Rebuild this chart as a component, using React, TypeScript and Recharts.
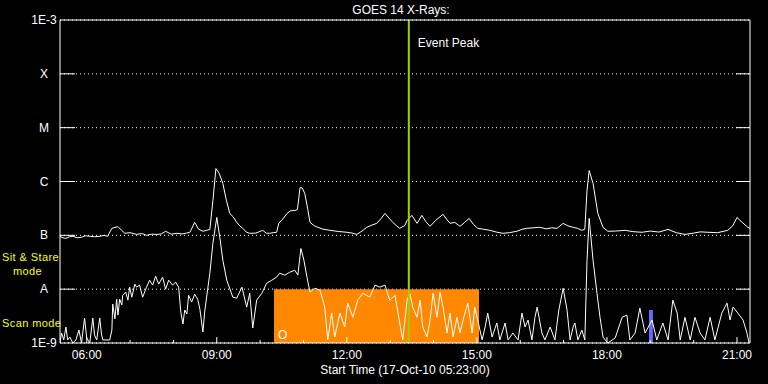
import React from "react";
import {
  LineChart,
  Line,
  XAxis,
  YAxis,
  CartesianGrid,
  ReferenceArea,
  ReferenceLine,
} from "recharts";

// time in decimal hours (UT), flux in W/m^2
const longTimes = [
  5.38, 5.45, 5.52, 5.6, 5.68, 5.78, 5.88, 5.97, 6.07, 6.18, 6.3, 6.4, 6.48, 6.58,
  6.72, 6.8, 6.88, 7.0, 7.15, 7.27, 7.38, 7.5, 7.62, 7.72, 7.82, 7.95, 8.08, 8.2,
  8.3, 8.38, 8.49, 8.58, 8.68, 8.77, 8.84, 8.91, 8.98, 9.06, 9.14, 9.22, 9.3, 9.38,
  9.46, 9.53, 9.6, 9.68, 9.76, 9.9, 10.06, 10.14, 10.22, 10.3, 10.38, 10.43, 10.52,
  10.62, 10.7, 10.8, 10.86, 10.92, 10.97, 11.03, 11.1, 11.15, 11.25, 11.33, 11.45,
  11.61, 11.8, 12.0, 12.12, 12.23, 12.35, 12.46, 12.58, 12.69, 12.8, 12.88, 12.97,
  13.06, 13.15, 13.22, 13.34, 13.39, 13.5, 13.62, 13.73, 13.82, 13.92, 14.05, 14.22,
  14.3, 14.38, 14.49, 14.61, 14.72, 14.82, 14.92, 15.02, 15.15, 15.3, 15.45, 15.6,
  15.75, 15.92, 16.05, 16.15, 16.3, 16.45, 16.6, 16.72, 16.85, 16.99, 17.1, 17.22,
  17.32, 17.42, 17.49, 17.54, 17.59, 17.68, 17.79, 17.91, 18.02, 18.2, 18.42, 18.6,
  18.81, 19.0, 19.2, 19.41, 19.6, 19.8, 20.0, 20.15, 20.33, 20.55, 20.79, 20.9, 21.0,
  21.12, 21.25, 21.3,
];
const longFlux = [
  9.6e-8, 9.0e-8, 8.8e-8, 9.4e-8, 9.6e-8, 9.0e-8, 9.2e-8, 9.8e-8, 9.6e-8, 9.4e-8,
  9.6e-8, 1.0e-7, 9.6e-8, 1.35e-7, 1.45e-7, 1.25e-7, 1.09e-7, 1.12e-7, 1.04e-7,
  1.08e-7, 1.0e-7, 1.05e-7, 1.04e-7, 1.06e-7, 1.19e-7, 1.05e-7, 1.09e-7, 1.06e-7,
  1.1e-7, 1.14e-7, 1.74e-7, 1.3e-7, 1.19e-7, 1.24e-7, 1.29e-7, 4.4e-7, 1.74e-6,
  1.4e-6, 9.2e-7, 4.5e-7, 2.55e-7, 2.2e-7, 1.74e-7, 1.5e-7, 1.35e-7, 1.15e-7, 1.09e-7,
  1.1e-7, 1.24e-7, 1.1e-7, 1.09e-7, 1.12e-7, 1.14e-7, 1.67e-7, 2.0e-7, 2.55e-7,
  2.85e-7, 2.9e-7, 3.0e-7, 7.7e-7, 7.6e-7, 6.0e-7, 3.0e-7, 1.74e-7, 1.5e-7, 1.41e-7,
  1.3e-7, 1.24e-7, 1.18e-7, 1.14e-7, 1.1e-7, 1.04e-7, 1.2e-7, 1.41e-7, 1.55e-7,
  1.67e-7, 2.1e-7, 2.55e-7, 2.1e-7, 1.74e-7, 1.5e-7, 1.35e-7, 1.53e-7, 1.9e-7,
  2.35e-7, 1.67e-7, 2.35e-7, 1.8e-7, 1.47e-7, 1.9e-7, 2.45e-7, 2.0e-7, 1.67e-7,
  1.74e-7, 1.47e-7, 1.75e-7, 2.06e-7, 1.6e-7, 1.35e-7, 1.3e-7, 1.24e-7, 1.15e-7,
  1.09e-7, 1.12e-7, 1.19e-7, 1.3e-7, 1.35e-7, 1.38e-7, 1.41e-7, 1.32e-7, 1.38e-7,
  1.35e-7, 1.67e-7, 1.5e-7, 1.41e-7, 1.35e-7, 1.24e-7, 1.3e-7, 6.8e-7, 1.6e-6,
  9.2e-7, 2.55e-7, 1.41e-7, 1.19e-7, 1.2e-7, 1.24e-7, 1.17e-7, 1.14e-7, 1.2e-7,
  1.15e-7, 1.29e-7, 1.12e-7, 1.04e-7, 1.1e-7, 1.16e-7, 1.14e-7, 1.12e-7, 1.24e-7,
  1.5e-7, 2.15e-7, 1.74e-7, 1.41e-7, 1.35e-7,
];

const shortTimes = [
  5.38, 5.42, 5.47, 5.52, 5.56, 5.61, 5.68, 5.75, 5.82, 5.88, 5.95, 6.0, 6.07, 6.14,
  6.18, 6.23, 6.3, 6.34, 6.37, 6.53, 6.58, 6.6, 6.65, 6.69, 6.72, 6.76, 6.81, 6.83,
  6.9, 6.95, 6.99, 7.04, 7.11, 7.15, 7.22, 7.29, 7.38, 7.45, 7.52, 7.59, 7.66, 7.75,
  7.82, 7.89, 7.98, 8.05, 8.12, 8.17, 8.22, 8.26, 8.31, 8.35, 8.42, 8.49, 8.56, 8.61,
  8.68, 8.72, 8.79, 8.84, 8.91, 9.0, 9.07, 9.14, 9.23, 9.37, 9.46, 9.58, 9.69, 9.76,
  9.83, 9.92, 10.04, 10.15, 10.27, 10.38, 10.45, 10.57, 10.68, 10.8, 10.87, 10.94,
  11.01, 11.08, 11.15, 11.26, 11.38, 11.49, 11.56, 11.65, 11.72, 11.84, 11.95, 12.02,
  12.14, 12.25, 12.37, 12.53, 12.65, 12.76, 12.88, 12.99, 13.11, 13.18, 13.22, 13.29,
  13.39, 13.45, 13.52, 13.62, 13.69, 13.75, 13.85, 13.92, 13.99, 14.08, 14.15, 14.22,
  14.31, 14.38, 14.45, 14.54, 14.61, 14.68, 14.79, 14.89, 14.95, 15.02, 15.12, 15.19,
  15.25, 15.35, 15.46, 15.53, 15.65, 15.72, 15.83, 15.95, 16.04, 16.11, 16.18, 16.27,
  16.34, 16.39, 16.5, 16.57, 16.69, 16.8, 16.89, 16.99, 17.08, 17.15, 17.22, 17.26,
  17.33, 17.42, 17.49, 17.54, 17.59, 17.68, 17.77, 17.84, 17.91, 18.02, 18.19, 18.35,
  18.46, 18.53, 18.65, 18.76, 18.88, 19.04, 19.15, 19.29, 19.41, 19.52, 19.62, 19.69,
  19.8, 19.92, 20.03, 20.15, 20.26, 20.38, 20.49, 20.65, 20.77, 20.84, 20.91, 21.02,
  21.14, 21.23, 21.28,
];
const shortFlux = [
  1.0e-9, 1.53e-9, 1.14e-9, 1.98e-9, 1.14e-9, 1.29e-9, 1.0e-9, 1.14e-9, 1.74e-9,
  1.0e-9, 2.9e-9, 1.24e-9, 1.0e-9, 2.9e-9, 1.4e-9, 1.14e-9, 2.9e-9, 1.47e-9, 1.14e-9,
  1.14e-9, 1.74e-9, 5.3e-9, 2.8e-9, 6.5e-9, 3.3e-9, 6.5e-9, 5.1e-9, 7.7e-9, 8.8e-9,
  6.25e-9, 1.09e-8, 7.1e-9, 1.24e-8, 1.09e-8, 1.19e-8, 7.1e-9, 1.09e-8, 1.47e-8,
  1.19e-8, 1.74e-8, 1.24e-8, 1.67e-8, 1.0e-8, 1.47e-8, 1.19e-8, 1.35e-8, 1.09e-8,
  3.75e-9, 2.25e-9, 4.1e-9, 3.45e-9, 7.7e-9, 5.75e-9, 8.1e-9, 6.5e-9, 4.25e-9, 1.6e-9,
  3.75e-9, 1.0e-8, 1.98e-8, 7.1e-8, 2.15e-7, 9.2e-8, 3.44e-8, 1.47e-8, 7.1e-9, 6.8e-9,
  1.09e-8, 4.64e-9, 8.4e-9, 1.9e-9, 6.25e-9, 8.4e-9, 1.29e-8, 1.47e-8, 1.67e-8,
  1.98e-8, 1.82e-8, 2.06e-8, 2.25e-8, 1.82e-8, 5.7e-8, 3.44e-8, 1.67e-8, 8.8e-9,
  1.04e-8, 9.6e-9, 4.64e-9, 1.14e-9, 3.6e-9, 1.29e-9, 3.6e-9, 1.98e-9, 5.5e-9, 3.0e-9,
  6.25e-9, 8.4e-9, 7.1e-9, 1.19e-8, 1.09e-8, 1.19e-8, 6.25e-9, 7.7e-9, 3.6e-9,
  2.35e-9, 1.14e-9, 6.25e-9, 8.4e-9, 4.64e-9, 3.0e-9, 6.25e-9, 1.98e-9, 1.29e-9,
  2.67e-9, 8.4e-9, 3.0e-9, 8.8e-9, 4.64e-9, 1.53e-9, 3.6e-9, 1.29e-9, 3.0e-9, 1.53e-9,
  2.67e-9, 5.5e-9, 1.53e-9, 4.64e-9, 2.67e-9, 1.14e-9, 1.98e-9, 3.6e-9, 1.29e-9,
  2.35e-9, 1.14e-9, 2.35e-9, 1.14e-9, 1.53e-9, 1.14e-9, 3.6e-9, 1.98e-9, 2.67e-9,
  1.14e-9, 3.0e-9, 4.64e-9, 1.53e-9, 1.14e-9, 1.98e-9, 1.14e-9, 4.08e-9, 1.04e-8,
  4.08e-9, 1.14e-9, 1.98e-9, 2.35e-9, 1.14e-9, 1.74e-9, 1.14e-9, 3.44e-8, 2.06e-7,
  3.44e-8, 8.4e-9, 3.0e-9, 1.29e-9, 1.0e-9, 1.24e-9, 3.0e-9, 3.3e-9, 1.14e-9, 1.53e-9,
  4.45e-9, 1.53e-9, 2.67e-9, 1.14e-9, 2.35e-9, 1.14e-9, 6.25e-9, 3.6e-9, 1.14e-9,
  3.0e-9, 1.14e-9, 3.0e-9, 1.53e-9, 1.14e-9, 3.0e-9, 1.14e-9, 3.6e-9, 5.5e-9, 2.67e-9,
  4.64e-9, 3.6e-9, 2.67e-9, 1.53e-9, 1.0e-9,
];

const levelTicks = [1e-9, 1e-8, 1e-7, 1e-6, 1e-5, 1e-4, 1e-3];
const levelLabels = ["1E-9", "A", "B", "C", "M", "X", "1E-3"];
const hourTicks = [6, 7, 8, 9, 10, 11, 12, 13, 14, 15, 16, 17, 18, 19, 20, 21];

const startHour = 5 + 23 / 60;
const endHour = 21.3;
const eventPeak = 13.43;
const sitStare = [10.32, 15.05];
const scanMark = [18.97, 19.06, 4.1e-9];

const longData = longTimes.map((t, i) => ({ t, flux: longFlux[i] }));
const shortData = shortTimes.map((t, i) => ({ t, flux: shortFlux[i] }));

const font = "'Liberation Sans', Arial, sans-serif";

const levelIndex = (v: number) =>
  levelTicks.findIndex((l) => Math.abs(Math.log10(l) - Math.log10(v)) < 0.01);

const hourLabel = (h: number) => `${String(h).padStart(2, "0")}:00`;

const BottomTick = (props: any) => {
  const { x, y, payload } = props;
  const major = payload.value % 3 === 0;
  return (
    <g>
      <line x1={x} x2={x} y1={y} y2={y - (major ? 6 : 3)} stroke="#fff" />
      {major && (
        <text x={x} y={y + 16} textAnchor="middle" fill="#fff" fontSize={12} fontFamily={font}>
          {hourLabel(payload.value)}
        </text>
      )}
    </g>
  );
};

const TopTick = (props: any) => {
  const { x, y, payload } = props;
  const major = payload.value % 3 === 0;
  return <line x1={x} x2={x} y1={y} y2={y + (major ? 6 : 3)} stroke="#fff" />;
};

const LeftTick = (props: any) => {
  const { x, y, payload } = props;
  const i = levelIndex(payload.value);
  const inner = i > 0 && i < levelTicks.length - 1;
  return (
    <g>
      {inner && <line x1={x} x2={x + 15} y1={y} y2={y} stroke="#fff" />}
      <text x={x - 16} y={y + 4} textAnchor="middle" fill="#fff" fontSize={12} fontFamily={font}>
        {levelLabels[i]}
      </text>
    </g>
  );
};

const RightTick = (props: any) => {
  const { x, y, payload } = props;
  const i = levelIndex(payload.value);
  if (i <= 0 || i >= levelTicks.length - 1) return <g />;
  return <line x1={x - 14} x2={x} y1={y} y2={y} stroke="#fff" />;
};

export default function App() {
  return (
    <div style={{ position: "fixed", left: 0, top: 0, width: 768, height: 384, background: "#000" }}>
      <LineChart
        width={768}
        height={384}
        margin={{ top: 0, right: 0, bottom: 0, left: 0 }}
        style={{ background: "#000" }}
      >
        <CartesianGrid vertical={false} stroke="#fff" strokeDasharray="1 3" />
        <XAxis
          type="number"
          dataKey="t"
          domain={[startHour, endHour]}
          allowDataOverflow
          ticks={hourTicks}
          interval={0}
          height={41}
          tickSize={0}
          tickMargin={0}
          axisLine={{ stroke: "#fff" }}
          tick={BottomTick}
        />
        <XAxis
          xAxisId="top"
          orientation="top"
          type="number"
          domain={[startHour, endHour]}
          allowDataOverflow
          ticks={hourTicks}
          interval={0}
          height={20}
          tickSize={0}
          tickMargin={0}
          axisLine={{ stroke: "#fff" }}
          tick={TopTick}
        />
        <YAxis
          type="number"
          scale="log"
          domain={[1e-9, 1e-3]}
          allowDataOverflow
          ticks={levelTicks}
          interval={0}
          width={60}
          tickSize={0}
          tickMargin={0}
          axisLine={{ stroke: "#fff" }}
          tick={LeftTick}
        />
        <YAxis
          yAxisId="right"
          orientation="right"
          type="number"
          scale="log"
          domain={[1e-9, 1e-3]}
          allowDataOverflow
          ticks={levelTicks}
          interval={0}
          width={18}
          tickSize={0}
          tickMargin={0}
          axisLine={{ stroke: "#fff" }}
          tick={RightTick}
        />
        <ReferenceArea
          x1={sitStare[0]}
          x2={sitStare[1]}
          y1={1e-9}
          y2={1e-8}
          fill="#ff8800"
          fillOpacity={1}
          stroke="none"
          label={{ value: "O", position: "insideBottomLeft", offset: 4, fill: "#fff", fontSize: 12, fontFamily: font }}
        />
        <ReferenceArea
          x1={scanMark[0]}
          x2={scanMark[1]}
          y1={1e-9}
          y2={scanMark[2]}
          fill="#6868ff"
          fillOpacity={1}
          stroke="none"
        />
        <Line
          data={shortData}
          dataKey="flux"
          type="linear"
          stroke="#fff"
          strokeWidth={1}
          dot={false}
          isAnimationActive={false}
        />
        <Line
          data={longData}
          dataKey="flux"
          type="linear"
          stroke="#fff"
          strokeWidth={1}
          dot={false}
          isAnimationActive={false}
        />
        <ReferenceLine
          x={eventPeak}
          stroke="#a0d000"
          strokeWidth={2}
          label={{
            value: "Event Peak",
            position: "insideTopLeft",
            offset: 9,
            dy: 9,
            fill: "#fff",
            fontSize: 12,
            fontFamily: font,
          }}
        />
      </LineChart>
      <svg
        width={768}
        height={384}
        style={{ position: "absolute", left: 0, top: 0, pointerEvents: "none" }}
        fontFamily={font}
        fontSize={12}
      >
        <text x={401} y={14} textAnchor="middle" fill="#fff">
          GOES 14 X-Rays:
        </text>
        <text x={405} y={374} textAnchor="middle" fill="#fff">
          Start Time (17-Oct-10 05:23:00)
        </text>
        <g fill="#ffff00" fontSize={11} letterSpacing={0.4}>
          <text x={2} y={261}>
            Sit &amp; Stare
          </text>
          <text x={13} y={275}>
            mode
          </text>
          <text x={2} y={327}>
            Scan mode
          </text>
        </g>
      </svg>
    </div>
  );
}
